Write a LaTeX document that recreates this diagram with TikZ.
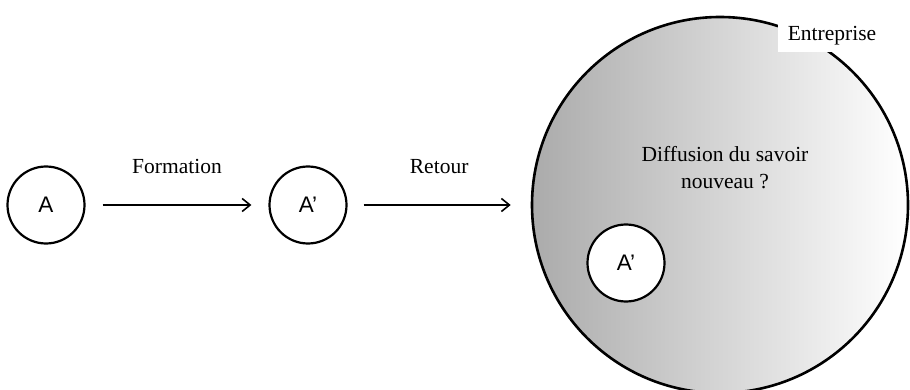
\documentclass[tikz,border=0pt]{standalone}
\usepackage{fontspec}
\setmainfont{Liberation Serif}
\newfontfamily\arialfont{Liberation Sans}
\usetikzlibrary{arrows.meta}
\begin{document}
\begin{tikzpicture}[x=1pt,y=-1pt,->,>={Straight Barb[length=8pt,width=13pt]},node distance=262pt,
    font=\fontsize{21.5}{27}\selectfont]
        \useasboundingbox (0,0) rectangle (910,390);
        \tikzset{person/.style={circle,draw,line width=2.2pt,minimum size=77pt,inner sep=0pt,fill=white,font=\arialfont\fontsize{22.5}{24}\selectfont}}
        \node[circle,draw,line width=2.6pt,minimum size=376pt,left color=black!33,right color=white](ent) at (720,205){};
        \node[person](a) at (46,205){A};
        \node[person](a2)[right of=a]{A’};
        \node[person](a3) at (626,263){A’};
        \node[](diff) at (725,168)[align=center]{Diffusion du savoir\\nouveau ?};
        \node[fill=white,minimum width=109pt,minimum height=33pt](entlabel) at (832,36){Entreprise};
        \path (a) edge[line width=1.6pt,shorten <=17pt,shorten >=17pt] node[above=27pt]{Formation} (a2);
        \path (a2) edge[line width=1.6pt,shorten <=16pt,shorten >=20pt] node[above=27pt]{Retour} (ent);
    \end{tikzpicture}
\end{document}
